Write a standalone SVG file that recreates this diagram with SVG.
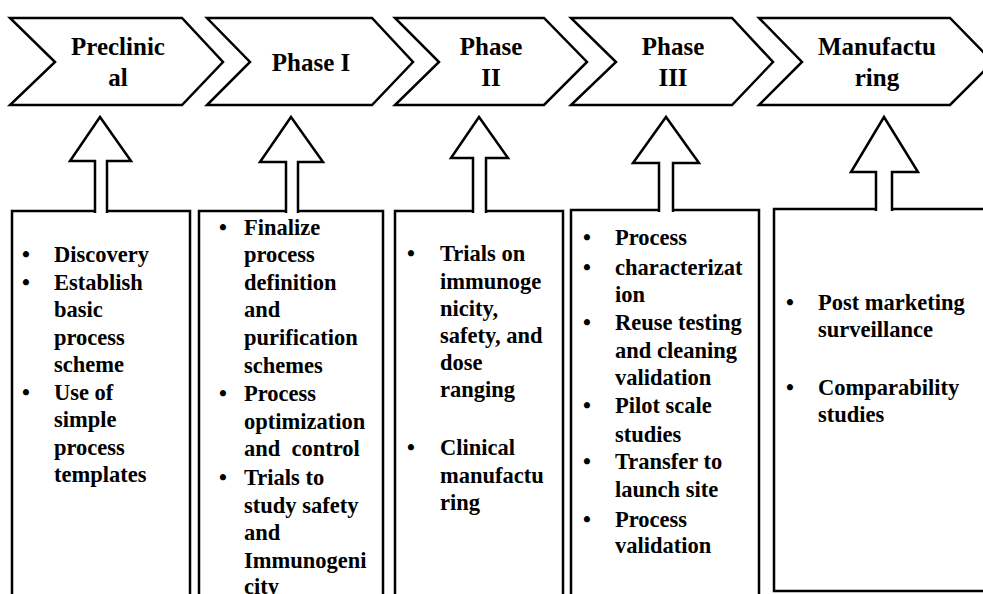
<svg xmlns="http://www.w3.org/2000/svg" width="983" height="594" viewBox="0 0 983 594">
<style>
.shape{fill:#fff;stroke:#000;stroke-width:2.5;stroke-linejoin:miter}
.hd{font-family:'Liberation Serif','DejaVu Serif',serif;font-weight:bold;font-size:25px;fill:#000;text-anchor:middle}
.tx{font-family:'Liberation Serif','DejaVu Serif',serif;font-weight:bold;font-size:22.5px;fill:#000;white-space:pre}
.bl{font-family:'Liberation Serif','DejaVu Serif',serif;font-weight:bold;font-size:22.5px;fill:#000;text-anchor:middle}
</style>
<rect width="983" height="594" fill="#fff"/>
<g id="stages">
<g id="stage-preclinical">
<polygon class="shape" points="10,18 182,18 223,62 182,105 10,105 55,62"/>
<text class="hd" x="118" y="55" font-family="Liberation Serif, serif">Preclinic</text>
<text class="hd" x="118" y="86" font-family="Liberation Serif, serif">al</text>
</g>
<g id="stage-phase1">
<polygon class="shape" points="207,18 372,18 413,62 372,105 207,105 250,62"/>
<text class="hd" x="311" y="71">Phase I</text>
</g>
<g id="stage-phase2">
<polygon class="shape" points="395,18 544,18 587,62 544,105 395,105 439,62"/>
<text class="hd" x="491" y="55">Phase</text>
<text class="hd" x="491" y="86">II</text>
</g>
<g id="stage-phase3">
<polygon class="shape" points="571,18 732,18 773,62 732,105 571,105 616,62"/>
<text class="hd" x="673" y="55">Phase</text>
<text class="hd" x="673" y="86">III</text>
</g>
<g id="stage-manufacturing">
<polygon class="shape" points="759,18 950,18 993,62 950,105 759,105 802,62"/>
<text class="hd" x="877" y="55">Manufactu</text>
<text class="hd" x="877" y="86">ring</text>
</g>
</g>
<g id="box-preclinical">
<rect class="shape" x="12" y="211" width="178" height="400"/>
<text class="bl" x="26" y="262">•</text>
<text class="tx" x="54" y="262">Discovery</text>
<text class="bl" x="26" y="289.5">•</text>
<text class="tx" x="54" y="289.5">Establish</text>
<text class="tx" x="54" y="317">basic</text>
<text class="tx" x="54" y="344.5">process</text>
<text class="tx" x="54" y="372">scheme</text>
<text class="bl" x="26" y="399.5">•</text>
<text class="tx" x="54" y="399.5">Use of</text>
<text class="tx" x="54" y="427">simple</text>
<text class="tx" x="54" y="454.5">process</text>
<text class="tx" x="54" y="482">templates</text>
</g>
<g id="box-phase1">
<rect class="shape" x="199" y="211" width="184" height="400"/>
<text class="bl" x="223" y="234.5">•</text>
<text class="tx" x="244" y="234.5">Finalize</text>
<text class="tx" x="244" y="262">process</text>
<text class="tx" x="244" y="289.5">definition</text>
<text class="tx" x="244" y="317.3">and</text>
<text class="tx" x="244" y="345">purification</text>
<text class="tx" x="244" y="372.5">schemes</text>
<text class="bl" x="223" y="401">•</text>
<text class="tx" x="244" y="401">Process</text>
<text class="tx" x="244" y="429">optimization</text>
<text class="tx" x="244" y="456">and  control</text>
<text class="bl" x="223" y="485">•</text>
<text class="tx" x="244" y="485">Trials to</text>
<text class="tx" x="244" y="512.7">study safety</text>
<text class="tx" x="244" y="540">and</text>
<text class="tx" x="244" y="567.7">Immunogeni</text>
<text class="tx" x="244" y="594">city</text>
</g>
<g id="box-phase2">
<rect class="shape" x="395" y="211" width="168" height="400"/>
<text class="bl" x="411" y="261">•</text>
<text class="tx" x="440" y="261">Trials on</text>
<text class="tx" x="440" y="288.5">immunoge</text>
<text class="tx" x="440" y="315.5">nicity,</text>
<text class="tx" x="440" y="343">safety, and</text>
<text class="tx" x="440" y="370">dose</text>
<text class="tx" x="440" y="397">ranging</text>
<text class="bl" x="411" y="455">•</text>
<text class="tx" x="440" y="455">Clinical</text>
<text class="tx" x="440" y="483">manufactu</text>
<text class="tx" x="440" y="509.5">ring</text>
</g>
<g id="box-phase3">
<rect class="shape" x="571" y="210" width="188" height="400"/>
<text class="bl" x="587" y="245">•</text>
<text class="tx" x="615" y="245">Process</text>
<text class="bl" x="587" y="275">•</text>
<text class="tx" x="615" y="275">characterizat</text>
<text class="tx" x="615" y="302">ion</text>
<text class="bl" x="587" y="330">•</text>
<text class="tx" x="615" y="330">Reuse testing</text>
<text class="tx" x="615" y="358">and cleaning</text>
<text class="tx" x="615" y="385">validation</text>
<text class="bl" x="587" y="413">•</text>
<text class="tx" x="615" y="413">Pilot scale</text>
<text class="tx" x="615" y="442">studies</text>
<text class="bl" x="587" y="469">•</text>
<text class="tx" x="615" y="469">Transfer to</text>
<text class="tx" x="615" y="497">launch site</text>
<text class="bl" x="587" y="527">•</text>
<text class="tx" x="615" y="527">Process</text>
<text class="tx" x="615" y="553">validation</text>
</g>
<g id="box-manufacturing">
<rect class="shape" x="774" y="209" width="240" height="382"/>
<text class="bl" x="790" y="310">•</text>
<text class="tx" x="818" y="310">Post marketing</text>
<text class="tx" x="818" y="337">surveillance</text>
<text class="bl" x="790" y="395">•</text>
<text class="tx" x="818" y="395">Comparability</text>
<text class="tx" x="818" y="422">studies</text>
</g>
<g id="connectors">
<path class="shape" d="M95,213 L95,161 L70,161 L100,117 L131,161 L107,161 L107,213"/>
<path class="shape" d="M286,213 L286,162 L260,162 L291,117 L323,162 L298,162 L298,213"/>
<path class="shape" d="M473,213 L473,158 L451,158 L479,117 L508,158 L486,158 L486,213"/>
<path class="shape" d="M659,212 L659,163 L633,163 L666,117 L699,163 L673,163 L673,212"/>
<path class="shape" d="M876,211 L876,172 L851,172 L884,117 L918,172 L892,172 L892,211"/>
</g>
</svg>
